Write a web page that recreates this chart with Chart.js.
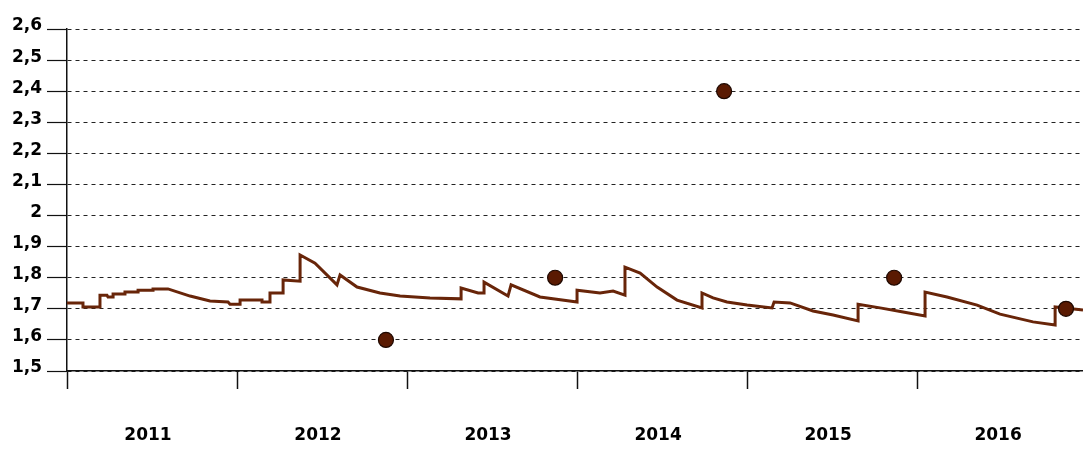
<!DOCTYPE html>
<html>
<head>
<meta charset="utf-8">
<script src="https://cdn.jsdelivr.net/npm/chart.js@4/dist/chart.umd.min.js"></script>
<style>
  html, body { margin: 0; padding: 0; background: #fff; }
  #wrap { width: 1083px; height: 449px; }
</style>
</head>
<body>
<div id="wrap"><canvas id="c" width="1083" height="449"></canvas></div>
<script>
// ---- data ----
const yearLabels = ['2011', '2012', '2013', '2014', '2015', '2016'];
const yTickLabels = ['1,5', '1,6', '1,7', '1,8', '1,9', '2', '2,1', '2,2', '2,3', '2,4', '2,5', '2,6'];

// main series: time in fractional years, value
const lineX = [
  2011.000, 2011.094, 2011.094, 2011.194, 2011.194, 2011.235, 2011.241, 2011.271, 2011.271, 2011.341,
  2011.341, 2011.418, 2011.418, 2011.506, 2011.506, 2011.594, 2011.724, 2011.841, 2011.947, 2011.959,
  2012.018, 2012.018, 2012.147, 2012.147, 2012.194, 2012.194, 2012.271, 2012.271, 2012.371, 2012.371,
  2012.459, 2012.588, 2012.606, 2012.706, 2012.841, 2012.959, 2013.135, 2013.318, 2013.318, 2013.418,
  2013.453, 2013.453, 2013.594, 2013.612, 2013.782, 2014.000, 2014.000, 2014.135, 2014.212, 2014.282,
  2014.282, 2014.371, 2014.471, 2014.588, 2014.735, 2014.735, 2014.800, 2014.882, 2015.000, 2015.147,
  2015.159, 2015.253, 2015.388, 2015.506, 2015.653, 2015.653, 2015.782, 2015.918, 2016.047, 2016.047,
  2016.176, 2016.353, 2016.488, 2016.682, 2016.812, 2016.812, 2016.976
];
const lineY = [
  1.719, 1.719, 1.706, 1.706, 1.744, 1.744, 1.738, 1.738, 1.748, 1.748,
  1.754, 1.754, 1.760, 1.760, 1.764, 1.764, 1.741, 1.725, 1.722, 1.715,
  1.715, 1.728, 1.728, 1.722, 1.722, 1.751, 1.751, 1.793, 1.789, 1.873,
  1.847, 1.777, 1.809, 1.770, 1.751, 1.741, 1.735, 1.732, 1.767, 1.751,
  1.751, 1.786, 1.741, 1.777, 1.738, 1.722, 1.760, 1.751, 1.757, 1.744,
  1.834, 1.815, 1.770, 1.728, 1.703, 1.751, 1.735, 1.722, 1.712, 1.703,
  1.722, 1.719, 1.693, 1.680, 1.661, 1.715, 1.703, 1.690, 1.677, 1.754,
  1.738, 1.712, 1.683, 1.658, 1.648, 1.706, 1.696
];

// yearly markers
const dotX = [2012.876, 2013.871, 2014.865, 2015.865, 2016.876];
const dotY = [1.6, 1.8, 2.4, 1.8, 1.7];

// ---- build chart ----
const xMin = 2011, xMax = 2016.976;
const lineData = lineX.map((x, i) => ({ x: x, y: lineY[i] }));
const dotData = dotX.map((x, i) => ({ x: x, y: dotY[i] }));
const FONT = { family: 'DejaVu Sans', size: 17, weight: 'bold' };

new Chart(document.getElementById('c'), {
  type: 'scatter',
  data: {
    datasets: [
      {
        label: 'markers',
        data: dotData,
        showLine: false,
        pointRadius: 7.5,
        pointBackgroundColor: '#5a1a02',
        pointBorderColor: '#1e0800',
        pointBorderWidth: 1.2,
        pointHoverRadius: 7.5,
        clip: false
      },
      {
        label: 'series',
        data: lineData,
        showLine: true,
        borderColor: '#682509',
        borderWidth: 3,
        pointRadius: 0,
        pointHoverRadius: 0,
        tension: 0,
        fill: false
      }
    ]
  },
  options: {
    responsive: false,
    animation: false,
    events: [],
    layout: { autoPadding: false, padding: { top: 29, right: 0, bottom: 0, left: 0 } },
    plugins: { legend: { display: false }, tooltip: { enabled: false } },
    scales: {
      x: {
        type: 'linear',
        min: xMin,
        max: xMax,
        afterBuildTicks: (scale) => {
          const t = [];
          yearLabels.forEach((lbl) => {
            const y = Number(lbl);
            t.push({ value: y });
            t.push({ value: y + 0.5 });
          });
          scale.ticks = t;
        },
        afterFit: (scale) => { scale.height = 78; },
        ticks: {
          autoSkip: false,
          maxRotation: 0,
          padding: 36,
          labelOffset: -4,
          color: '#000',
          font: FONT,
          callback: (v) => {
            const frac = Math.round((v % 1) * 10) / 10;
            if (frac === 0.5) {
              const idx = yearLabels.indexOf(String(Math.floor(v)));
              return idx >= 0 ? yearLabels[idx] : '';
            }
            return '';
          }
        },
        grid: {
          drawOnChartArea: false,
          drawTicks: true,
          tickLength: 18,
          tickWidth: 1.5,
          color: (ctx) => (ctx.tick && Math.abs(ctx.tick.value % 1) < 1e-6 ? '#111' : 'rgba(0,0,0,0)'),
          tickColor: (ctx) => (ctx.tick && Math.abs(ctx.tick.value % 1) < 1e-6 ? '#111' : 'rgba(0,0,0,0)')
        },
        border: { display: true, color: '#111', width: 1.5 }
      },
      y: {
        type: 'linear',
        min: 1.5,
        max: 2.6,
        afterBuildTicks: (scale) => {
          scale.ticks = yTickLabels.map((_, i) => ({ value: Math.round((1.5 + i * 0.1) * 10) / 10 }));
        },
        afterFit: (scale) => { scale.width = 67; },
        ticks: {
          autoSkip: false,
          padding: 5,
          labelOffset: -3,
          color: '#000',
          font: FONT,
          callback: (v, i) => yTickLabels[i]
        },
        grid: {
          drawOnChartArea: true,
          drawTicks: true,
          tickLength: 20,
          lineWidth: 1,
          color: '#222',
          tickColor: '#111',
          tickWidth: 1.2,
          tickBorderDash: []
        },
        border: { display: true, color: '#111', width: 1.5, dash: [4, 4] }
      }
    }
  }
});
</script>
</body>
</html>
